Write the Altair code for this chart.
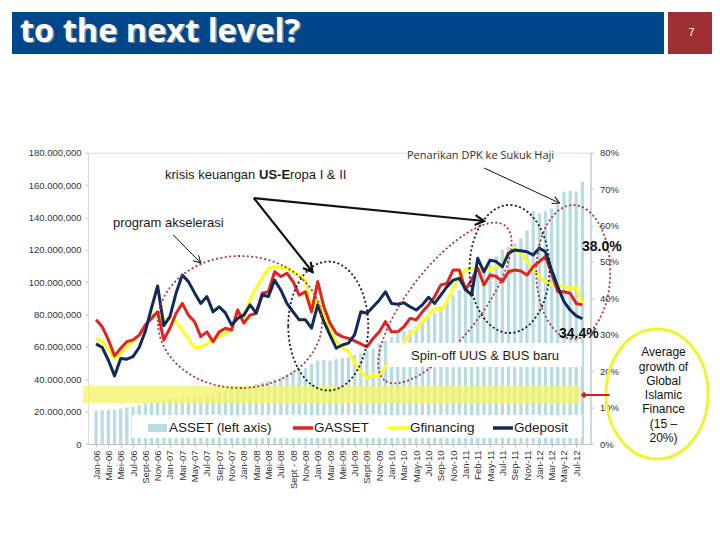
import json
import math
import altair as alt
import pandas as pd

# ---------------- data ----------------
months = list(range(80))  # Jan-06 ... Aug-12, monthly

asset_millions = [
    20.5, 20.8, 21.0, 21.0, 22.0, 22.5, 23.0, 24.0, 25.0, 25.5, 26.0, 27.0,
    27.5, 28.0, 28.5, 29.0, 29.5, 30.0, 30.5, 31.0, 32.0, 33.0, 34.0, 35.0,
    35.5, 36.0, 37.0, 38.0, 39.0, 40.0, 41.0, 43.0, 45.0, 46.0, 47.0, 49.5,
    51.5, 52.0, 51.5, 52.5, 53.0, 53.5, 55.0, 56.0, 57.5, 59.0, 62.0, 64.0,
    66.0, 68.0, 69.5, 70.5, 72.5, 75.0, 78.0, 81.0, 85.0, 89.0, 92.0, 95.0,
    99.0, 101.0, 105.0, 107.5, 111.0, 116.0, 120.0, 122.0, 124.0, 127.0, 132.0, 144.0,
    142.5, 144.0, 145.5, 148.5, 156.0, 156.5, 156.0, 162.0,
]

gasset_pct = [
    34.1, 32.2, 28.6, 24.2, 26.3, 28.1, 28.6, 29.9, 32.7, 34.5, 36.3, 28.6,
    31.8, 35.9, 38.6, 35.4, 33.6, 29.5, 30.8, 28.1, 30.8, 31.8, 31.3, 36.8,
    33.2, 35.4, 35.9, 41.4, 41.8, 47.3, 46.0, 46.9, 44.6, 40.9, 41.8, 36.3,
    44.6, 37.7, 33.2, 30.4, 29.5, 29.0, 28.3, 27.5, 26.7, 29.0, 30.8, 33.6,
    30.8, 30.8, 32.2, 34.5, 34.1, 36.3, 38.2, 40.5, 43.7, 44.1, 47.8, 47.8,
    42.3, 45.1, 48.3, 43.7, 46.4, 46.0, 44.6, 47.3, 47.8, 47.5, 46.4, 48.7,
    50.1, 51.5, 46.9, 41.8, 41.8, 41.4, 38.6, 38.2,
]

gfinancing_pct = [
    29.0, 28.1, 25.8, 23.5, 24.9, 26.7, 28.1, 29.9, 32.2, 35.0, 36.3, 34.1,
    34.5, 33.6, 31.3, 29.0, 26.3, 26.7, 27.5, 29.0, 29.5, 30.4, 31.3, 36.8,
    34.5, 39.6, 43.0, 45.5, 48.3, 48.7, 48.5, 48.3, 47.3, 46.4, 45.0, 36.3,
    39.6, 35.4, 31.3, 28.1, 26.5, 25.4, 22.2, 19.9, 18.0, 19.0, 18.5, 21.2,
    23.0, 25.5, 27.7, 30.4, 31.3, 33.6, 35.5, 37.3, 36.8, 39.1, 42.8, 46.0,
    47.8, 48.3, 47.3, 48.3, 47.8, 48.7, 49.2, 52.4, 53.8, 52.4, 50.1, 48.0,
    46.0, 44.6, 43.7, 43.7, 43.2, 42.8, 43.2, 38.6,
]

gdeposit_pct = [
    27.5, 26.5, 23.0, 18.7, 23.5, 23.3, 24.0, 26.5, 31.0, 37.3, 43.4, 32.5,
    35.0, 41.5, 46.4, 44.6, 41.5, 38.6, 40.5, 36.3, 37.7, 36.0, 32.7, 34.5,
    35.4, 38.2, 36.0, 40.9, 40.5, 45.0, 42.3, 38.6, 36.3, 34.1, 34.1, 31.8,
    38.2, 33.6, 29.9, 26.3, 27.2, 27.7, 30.0, 36.3, 35.9, 37.7, 39.5, 41.8,
    38.6, 38.4, 38.8, 37.7, 36.8, 38.2, 40.3, 38.6, 40.9, 43.2, 45.0, 45.5,
    42.5, 40.9, 51.0, 47.3, 50.5, 50.1, 48.7, 52.4, 53.3, 53.1, 52.8, 51.9,
    53.8, 52.8, 47.8, 43.2, 39.1, 36.8, 35.2, 34.4,
]

tick_labels = [
    "Jan-06", "Mar-06", "Mei-06", "Jul-06", "Sept-06", "Nov-06",
    "Jan-07", "Mar-07", "May-07", "Jul-07", "Sep-07", "Nov-07",
    "Jan-08", "Mar-08", "Mei-08", "Juli-08", "Sept - 08", "Nov-08",
    "Jan-09", "Mar-09", "Mei-09", "Jul-09", "Sept-09", "Nov-09",
    "Jan-10", "Mar-10", "May-10", "Jul-10", "Sep-10", "Nov-10",
    "Jan-11", "Feb-11", "May-11", "Jul-11", "Sep-11", "Nov-11",
    "Jan-12", "Mar-12", "May-12", "Jul-12",
]

# ---------------- geometry of the slide ----------------
X0, Y0 = 88.0, 152.7          # plot origin on the page
W, H = 502.5, 291.3            # plot size
XS = W / 80.0


def dx(px):   # page px -> month index
    return (px - X0) / XS - 0.5


def dy(py):   # page px -> right-axis share
    return (444.0 - py) / H * 0.8


def vx(px):   # page px -> plot-relative px
    return px - X0


def vy(py):
    return py - Y0


FONT = "Liberation Sans"
dummy = pd.DataFrame({"d": [0]})

x_axis = alt.Axis(
    values=list(range(0, 80, 2)),
    labelExpr=json.dumps(tick_labels) + "[datum.value/2]",
    labelAngle=270, labelFontSize=9.5, labelColor="#333333", labelFont=FONT,
    tickSize=3, tickColor="#bfbfbf", domainColor="#bfbfbf", grid=False,
    title=None, labelPadding=3, labelOverlap=False, labelFlush=False, labelBound=False,
)
XSCALE = alt.Scale(domain=[-0.5, 79.5], nice=False, zero=False)
X = alt.X("x:Q", scale=XSCALE, axis=x_axis)

left_axis = alt.Axis(
    orient="left", values=[i * 20e6 for i in range(10)],
    labelExpr="replace(format(datum.value, ','), ',', '.')",
    labelFontSize=9.5, labelColor="#333333", labelFont=FONT, tickSize=3,
    tickColor="#bfbfbf", domainColor="#d9d9d9", grid=False, title=None,
    labelPadding=4, labelFlush=False,
)
YL = alt.Y("asset:Q", scale=alt.Scale(domain=[0, 180e6], nice=False), axis=left_axis)

right_axis = alt.Axis(
    orient="right", values=[i / 10 for i in range(9)], format=".0%",
    labelFontSize=9.5, labelColor="#333333", labelFont=FONT, tickSize=3,
    tickColor="#bfbfbf", domainColor="#bfbfbf", grid=False, title=None,
    labelPadding=6, labelFlush=False,
)
YSCALE_R = alt.Scale(domain=[0, 0.8], nice=False)
YR = alt.Y("v:Q", scale=YSCALE_R, axis=right_axis)

df = pd.DataFrame({"x": months, "asset": [a * 1e6 for a in asset_millions]})

# ---------------- left group: ASSET bars ----------------
bars = alt.Chart(df).mark_bar(size=3.3, color="#b7dde3").encode(x=X, y=YL)
left = alt.layer(bars)

# ---------------- right group ----------------
layers = []

band = pd.DataFrame({"x": [dx(78)], "x2": [dx(585)], "v": [dy(403.3)], "v2": [dy(385.7)]})
layers.append(
    alt.Chart(band).mark_rect(color="#f4f46a", opacity=0.78).encode(
        x=X, x2="x2:Q", y=YR, y2="v2:Q")
)

for series, color in [(gfinancing_pct, "#ffff1a"), (gasset_pct, "#e2231f"), (gdeposit_pct, "#102a5c")]:
    d = pd.DataFrame({"x": months, "v": [s / 100 for s in series]})
    layers.append(
        alt.Chart(d).mark_line(color=color, strokeWidth=3, strokeJoin="round").encode(x=X, y=YR)
    )


def ell_path(k):
    c = 0.5523
    return (f"M -1 0 C -1 {-c*k:.4f} {-c:.4f} {-k:.4f} 0 {-k:.4f} "
            f"C {c:.4f} {-k:.4f} 1 {-c*k:.4f} 1 0 "
            f"C 1 {c*k:.4f} {c:.4f} {k:.4f} 0 {k:.4f} "
            f"C {-c:.4f} {k:.4f} -1 {c*k:.4f} -1 0 Z")


RED_DOT = "#b3343c"
BLK_DOT = "#1a1a1a"
ellipses = [
    (238, 322, 82, 66, 0, RED_DOT),
    (328, 326, 40, 64.5, 0, BLK_DOT),
    (513, 269, 40, 64, 0, BLK_DOT),
    (578, 272, 37, 67, 0, RED_DOT),
    (447, 303, 98, 36, 308, RED_DOT),
]
for cx, cy, rx, ry, ang, col in ellipses:
    d = pd.DataFrame({"x": [dx(cx)], "v": [dy(cy)]})
    layers.append(
        alt.Chart(d).mark_point(
            shape=ell_path(ry / rx), size=(2 * rx) ** 2, filled=False, stroke=col,
            strokeWidth=1.8, strokeDash=[2, 2.4], opacity=1, angle=ang,
        ).encode(x=X, y=YR)
    )

# arrows (annotation)
arrows = [
    ((252, 198), (312, 272), 2.2, 9),
    ((252, 198), (487, 221), 2.2, 9),
    ((170, 235), (198, 263), 1.0, 7),
    ((487, 168), (564, 203), 1.0, 7),
]
HEAD = "M -0.55 1 L 0 0 L 0.55 1"
for (x1, y1), (x2, y2), w, hl in arrows:
    d = pd.DataFrame({"x": [dx(x1)], "v": [dy(y1)], "x2": [dx(x2)], "v2": [dy(y2)]})
    layers.append(
        alt.Chart(d).mark_rule(color="#111111", strokeWidth=w).encode(
            x=X, y=YR, x2="x2:Q", y2="v2:Q")
    )
    ang = math.degrees(math.atan2(x2 - x1, -(y2 - y1))) % 360
    h = pd.DataFrame({"x": [dx(x2)], "v": [dy(y2)]})
    layers.append(
        alt.Chart(h).mark_point(
            shape=HEAD, size=(2 * hl) ** 2, filled=False, stroke="#111111",
            strokeWidth=w, opacity=1, angle=ang,
        ).encode(x=X, y=YR)
    )


def rect(x1, y1, x2, y2, color, **kw):
    return alt.Chart(dummy).mark_rect(color=color, **kw).encode(
        x=alt.value(vx(x1)), x2=alt.value(vx(x2)), y=alt.value(vy(y1)), y2=alt.value(vy(y2)))


def text(s, x, y, size=13, align="left", weight="normal", color="#1a1a1a", font=FONT, baseline="middle", **kw):
    return alt.Chart(dummy).mark_text(
        text=s, fontSize=size, align=align, fontWeight=weight, color=color, font=font,
        baseline=baseline, **kw,
    ).encode(x=alt.value(vx(x)), y=alt.value(vy(y)))


# white boxes
layers.append(rect(388, 343, 582, 367, "white"))
layers.append(text("Spin-off UUS & BUS baru", 485, 356, size=13, align="center"))
layers.append(rect(132, 415, 582, 438, "white"))

# legend
layers.append(rect(148, 424, 167, 432, "#b7dde3"))
layers.append(text("ASSET (left axis)", 169, 428, size=13.5))
for x1, x2, col, lab, tx in [(293, 313, "#e2231f", "GASSET", 314),
                             (388, 410, "#ffff1a", "Gfinancing", 410),
                             (493, 513, "#102a5c", "Gdeposit", 514)]:
    layers.append(
        alt.Chart(dummy).mark_rule(color=col, strokeWidth=3.5).encode(
            x=alt.value(vx(x1)), x2=alt.value(vx(x2)), y=alt.value(vy(428)))
    )
    layers.append(text(lab, tx, 428, size=13.5))

# annotation texts
layers.append(text("krisis keuangan ", 165, 175, size=13))
layers.append(text("US-E", 259, 175, size=13, weight="bold"))
layers.append(text("ropa I & II", 290, 175, size=13))
layers.append(text("program akselerasi", 113, 223, size=13))
layers.append(text("Penarikan DPK ke Sukuk Haji", 407, 156, size=11, font="Open Sans", color="#333333"))
layers.append(text("38.0%", 582, 247, size=14, weight="bold", color="#111111"))
layers.append(text("34.4%", 559, 334, size=14, weight="bold", color="#111111"))

# right yellow circle + red arrow
circ = pd.DataFrame({"x": [dx(663.5)], "v": [dy(394)]})
layers.append(
    alt.Chart(circ).mark_point(
        shape=ell_path(65 / 51), size=(2 * 51) ** 2, filled=False, stroke="#f2f230",
        strokeWidth=3, opacity=1,
    ).encode(x=X, y=YR)
)
layers.append(text("Average\ngrowth of\nGlobal\nIslamic\nFinance\n(15 \u2013\n20%)", 663.5, 352.3,
                   size=12, align="center", lineBreak="\n", lineHeight=14.3, color="#111111"))
red_arrow = pd.DataFrame({"x": [dx(615)], "v": [dy(395)], "x2": [dx(589)], "v2": [dy(395)]})
layers.append(
    alt.Chart(red_arrow).mark_rule(color="#d01f1f", strokeWidth=2).encode(
        x=X, y=YR, x2="x2:Q", y2="v2:Q")
)
layers.append(
    alt.Chart(red_arrow).mark_point(shape="diamond", size=40, filled=True, color="#d01f1f", opacity=1).encode(
        x=alt.X("x2:Q", scale=XSCALE, axis=x_axis),
        y=alt.Y("v2:Q", scale=YSCALE_R, axis=right_axis))
)

# slide header
layers.append(rect(12, 12, 664, 54, "#00468b"))
layers.append(rect(668, 12, 715, 54, "#9e3033"))
layers.append(text("to the next level?", 21.5, 43, size=32.5, weight="bold", color="#7d8aa0",
                   font="Open Sans", baseline="alphabetic"))
layers.append(text("to the next level?", 20, 41.5, size=32.5, weight="bold", color="#ffffff",
                   font="Open Sans", baseline="alphabetic"))
layers.append(text("7", 691.5, 33, size=11, align="center", color="#ffffff"))

right = alt.layer(*layers)

chart = (
    alt.layer(left, right)
    .resolve_scale(y="independent")
    .properties(
        width=W, height=H,
        autosize=alt.AutoSizeParams(type="none"),
        padding={"left": X0 - 8, "top": Y0 - 8, "right": 720 - 16 - (X0 - 8) - W, "bottom": 540 - 16 - (Y0 - 8) - H},
    )
    .configure_view(strokeWidth=0)
    .configure(background="white")
)

chart.save("out.html", embed_options={"renderer": "svg", "actions": False})
